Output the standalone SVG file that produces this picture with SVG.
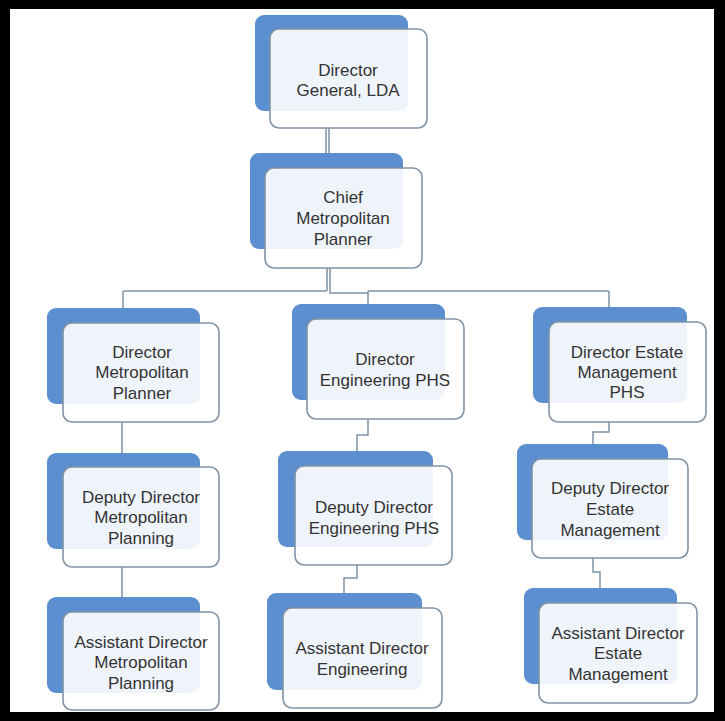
<svg xmlns="http://www.w3.org/2000/svg" width="725" height="721" viewBox="0 0 725 721">
<style>
.back{fill:#5b8fd0;}
.front{fill:#ffffff;fill-opacity:0.9;stroke:#8193a5;stroke-width:1.6;}
.lbl{font-family:"Liberation Sans",Arial,sans-serif;font-size:17px;fill:#333333;text-anchor:middle;}
.con{fill:none;stroke:#7e93a8;stroke-width:1.5;}
</style>
<rect x="0" y="0" width="725" height="721" fill="#000000"/>
<rect x="10" y="9" width="704" height="703" fill="#ffffff"/>
<g id="connectors">
<path class="con" d="M326,128 V153 M329,128 V153"/>
<path class="con" d="M327,268 V291 M330,268 V293 H368"/>
<path class="con" d="M123,291 H327 M368,291 H609"/>
<path class="con" d="M123,291 V308 M368,291 V304 M609,291 V307"/>
<path class="con" d="M122,422 V453"/>
<path class="con" d="M368,419 V435 H357 V451"/>
<path class="con" d="M609,422 V432 H593 V444"/>
<path class="con" d="M122,567 V597"/>
<path class="con" d="M357,565 V578 H344 V593"/>
<path class="con" d="M593,558 V572 H600 V588"/>
</g>
<g id="n-dg">
<rect class="back" x="255" y="15" width="153" height="96" rx="9"/>
<rect class="front" x="270" y="29" width="157" height="99" rx="9"/>
<text class="lbl" x="348" y="76">Director</text>
<text class="lbl" x="348" y="96">General, LDA</text>
</g>
<g id="n-cmp">
<rect class="back" x="250" y="153" width="153" height="96" rx="9"/>
<rect class="front" x="265" y="168" width="157" height="100" rx="9"/>
<text class="lbl" x="343" y="203">Chief</text>
<text class="lbl" x="343" y="224">Metropolitan</text>
<text class="lbl" x="343" y="245">Planner</text>
</g>
<g id="n-dmp">
<rect class="back" x="47" y="308" width="153" height="96" rx="9"/>
<rect class="front" x="63" y="323" width="156" height="99" rx="9"/>
<text class="lbl" x="142" y="358">Director</text>
<text class="lbl" x="142" y="378">Metropolitan</text>
<text class="lbl" x="142" y="399">Planner</text>
</g>
<g id="n-dep">
<rect class="back" x="292" y="304" width="153" height="96" rx="9"/>
<rect class="front" x="307" y="319" width="157" height="100" rx="9"/>
<text class="lbl" x="385" y="365">Director</text>
<text class="lbl" x="385" y="386">Engineering PHS</text>
</g>
<g id="n-dem">
<rect class="back" x="533" y="307" width="154" height="96" rx="9"/>
<rect class="front" x="549" y="322" width="157" height="100" rx="9"/>
<text class="lbl" x="627" y="358">Director Estate</text>
<text class="lbl" x="627" y="378">Management</text>
<text class="lbl" x="627" y="398">PHS</text>
</g>
<g id="n-ddmp">
<rect class="back" x="47" y="453" width="153" height="96" rx="9"/>
<rect class="front" x="63" y="467" width="156" height="100" rx="9"/>
<text class="lbl" x="141" y="503">Deputy Director</text>
<text class="lbl" x="141" y="523">Metropolitan</text>
<text class="lbl" x="141" y="544">Planning</text>
</g>
<g id="n-ddep">
<rect class="back" x="278" y="451" width="155" height="96" rx="9"/>
<rect class="front" x="295" y="466" width="157" height="99" rx="9"/>
<text class="lbl" x="374" y="513">Deputy Director</text>
<text class="lbl" x="374" y="534">Engineering PHS</text>
</g>
<g id="n-ddem">
<rect class="back" x="517" y="444" width="151" height="96" rx="9"/>
<rect class="front" x="532" y="459" width="156" height="99" rx="9"/>
<text class="lbl" x="610" y="494">Deputy Director</text>
<text class="lbl" x="610" y="515">Estate</text>
<text class="lbl" x="610" y="536">Management</text>
</g>
<g id="n-admp">
<rect class="back" x="47" y="597" width="153" height="96" rx="9"/>
<rect class="front" x="63" y="612" width="156" height="98" rx="9"/>
<text class="lbl" x="141" y="648">Assistant Director</text>
<text class="lbl" x="141" y="668">Metropolitan</text>
<text class="lbl" x="141" y="689">Planning</text>
</g>
<g id="n-ade">
<rect class="back" x="267" y="593" width="155" height="97" rx="9"/>
<rect class="front" x="283" y="608" width="159" height="100" rx="9"/>
<text class="lbl" x="362" y="654">Assistant Director</text>
<text class="lbl" x="362" y="675">Engineering</text>
</g>
<g id="n-adem">
<rect class="back" x="524" y="588" width="153" height="96" rx="9"/>
<rect class="front" x="539" y="603" width="158" height="100" rx="9"/>
<text class="lbl" x="618" y="639">Assistant Director</text>
<text class="lbl" x="618" y="659">Estate</text>
<text class="lbl" x="618" y="680">Management</text>
</g>
</svg>
